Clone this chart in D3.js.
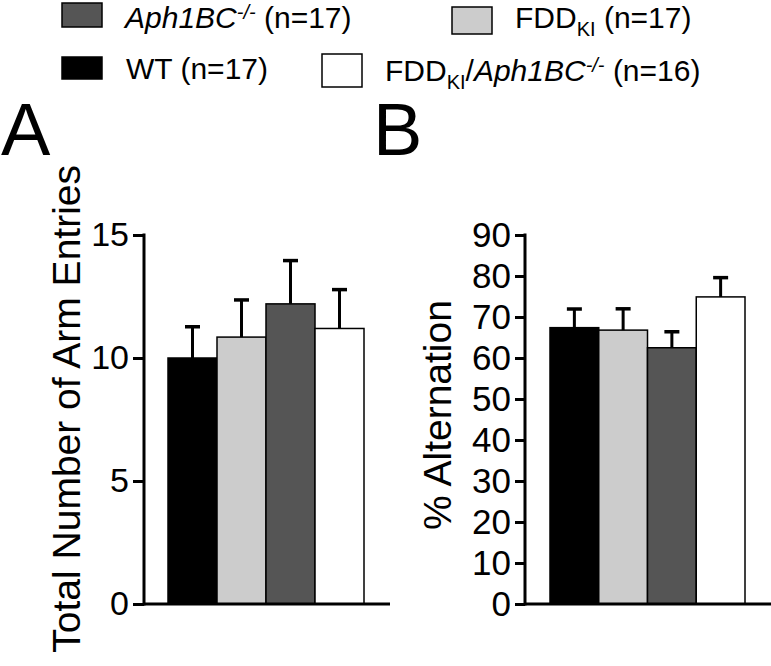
<!DOCTYPE html>
<html>
<head>
<meta charset="utf-8">
<script src="https://cdn.jsdelivr.net/npm/d3@7/dist/d3.min.js"></script>
<style>
  html, body { margin: 0; padding: 0; background: #fff; }
  svg { display: block; }
  text { font-family: "Liberation Sans", Arial, Helvetica, sans-serif; fill: #000; }
</style>
</head>
<body>
<svg id="chart" width="771" height="666"></svg>
<script>
// ---- data ----
const groups = ["WT", "FDD_KI", "Aph1BC-/-", "FDD_KI/Aph1BC-/-"];
const groupN = [17, 17, 17, 16];
const groupColors = ["#000000", "#cccccc", "#555555", "#ffffff"];
const entriesMean = [10.0, 10.85, 12.2, 11.2];
const entriesErr = [1.27, 1.51, 1.76, 1.58];
const altMean = [67.4, 66.8, 62.5, 74.9];
const altErr = [4.55, 5.2, 3.9, 4.7];
const entriesTicks = [0, 5, 10, 15];
const altTicks = [0, 10, 20, 30, 40, 50, 60, 70, 80, 90];

const svg = d3.select("#chart");

// ---- legend ----
const legend = [
  {g: 2, box: [62, 3, 40, 24], tx: 125, ty: 28},
  {g: 1, box: [452, 7, 40, 27], tx: 515, ty: 28},
  {g: 0, box: [62, 57, 40, 22], tx: 126, ty: 79},
  {g: 3, box: [322, 54, 40, 33], tx: 385, ty: 81}
];
const lg = svg.append("g");
legend.forEach(d => {
  lg.append("rect").attr("x", d.box[0]).attr("y", d.box[1])
    .attr("width", d.box[2]).attr("height", d.box[3])
    .attr("fill", groupColors[d.g]).attr("stroke", "#000").attr("stroke-width", 1.5);
  const t = lg.append("text").attr("x", d.tx).attr("y", d.ty).attr("font-size", 30);
  const name = groups[d.g];
  let pending = 0;
  const add = (txt, attrs) => {
    const s = t.append("tspan").text(txt);
    let dy = pending + (attrs && attrs.shift ? attrs.shift : 0);
    if (dy) s.attr("dy", dy);
    pending = attrs && attrs.shift ? -attrs.shift : 0;
    if (attrs && attrs.size) s.attr("font-size", attrs.size);
    if (attrs && attrs.italic) s.attr("font-style", "italic");
    return s;
  };
  const addFDD = () => { add("FDD"); add("KI", {shift: 8, size: 20}); };
  const addAph = () => { add("Aph1BC", {italic: true}); add("-/-", {shift: -9, size: 20, italic: true}); };
  if (name === "WT") add("WT");
  else if (name === "FDD_KI") addFDD();
  else if (name === "Aph1BC-/-") addAph();
  else { addFDD(); add("/"); addAph(); }
  add(" (n=" + groupN[d.g] + ")");
});

// ---- panel drawing ----
function panel(opts) {
  const g = svg.append("g");
  const x = d3.scaleBand().domain(groups).range(opts.barRange).padding(0);
  const y = d3.scaleLinear().domain(opts.domain).range([604, 235]);

  // bars
  g.selectAll("rect.bar").data(groups).join("rect")
    .attr("class", "bar")
    .attr("x", d => x(d)).attr("width", x.bandwidth())
    .attr("y", (d, i) => y(opts.mean[i]))
    .attr("height", (d, i) => y(0) - y(opts.mean[i]))
    .attr("fill", (d, i) => groupColors[i])
    .attr("stroke", "#000").attr("stroke-width", 1.5);

  // error bars (upper only)
  const capW = 15;
  groups.forEach((d, i) => {
    const cx = x(d) + x.bandwidth() / 2;
    g.append("line").attr("x1", cx).attr("x2", cx)
      .attr("y1", y(opts.mean[i])).attr("y2", y(opts.mean[i] + opts.err[i]))
      .attr("stroke", "#000").attr("stroke-width", 3);
    g.append("line").attr("x1", cx - capW / 2).attr("x2", cx + capW / 2)
      .attr("y1", y(opts.mean[i] + opts.err[i])).attr("y2", y(opts.mean[i] + opts.err[i]))
      .attr("stroke", "#000").attr("stroke-width", 3.5);
  });

  // x axis line
  g.append("line").attr("x1", opts.axisX).attr("x2", opts.xEnd)
    .attr("y1", y(0)).attr("y2", y(0))
    .attr("stroke", "#000").attr("stroke-width", 3);

  // y axis
  const ax = g.append("g").attr("transform", `translate(${opts.axisX},0)`)
    .call(d3.axisLeft(y).tickValues(opts.ticks).tickSize(opts.tickLen).tickSizeOuter(0).tickPadding(4));
  ax.select(".domain").attr("stroke-width", 3).attr("d", `M0,${y(opts.domain[1]) - 1.5}V${y(0) + 1.5}`);
  ax.selectAll(".tick line").attr("stroke-width", 3);
  ax.selectAll(".tick text").attr("font-size", opts.tickFont)
    .attr("font-family", "'Liberation Sans', Arial, sans-serif").attr("fill", "#000");

  // y label
  g.append("text")
    .attr("transform", `translate(${opts.labelX},${opts.labelY}) rotate(-90)`)
    .attr("text-anchor", opts.labelAnchor)
    .attr("font-size", 39)
    .text(opts.label);

  // panel letter
  g.append("text").attr("x", opts.letterX).attr("y", 155)
    .attr("font-size", 74).text(opts.letter);
}

panel({
  barRange: [168, 364], domain: [0, 15], mean: entriesMean, err: entriesErr,
  axisX: 144, xEnd: 390, ticks: entriesTicks, tickLen: 11, tickFont: 34,
  label: "Total Number of Arm Entries", labelX: 80, labelY: 165, labelAnchor: "end",
  letter: "A", letterX: 1
});

panel({
  barRange: [550, 745], domain: [0, 90], mean: altMean, err: altErr,
  axisX: 525, xEnd: 771, ticks: altTicks, tickLen: 10, tickFont: 35,
  label: "% Alternation", labelX: 451, labelY: 415, labelAnchor: "middle",
  letter: "B", letterX: 373
});
</script>
</body>
</html>
